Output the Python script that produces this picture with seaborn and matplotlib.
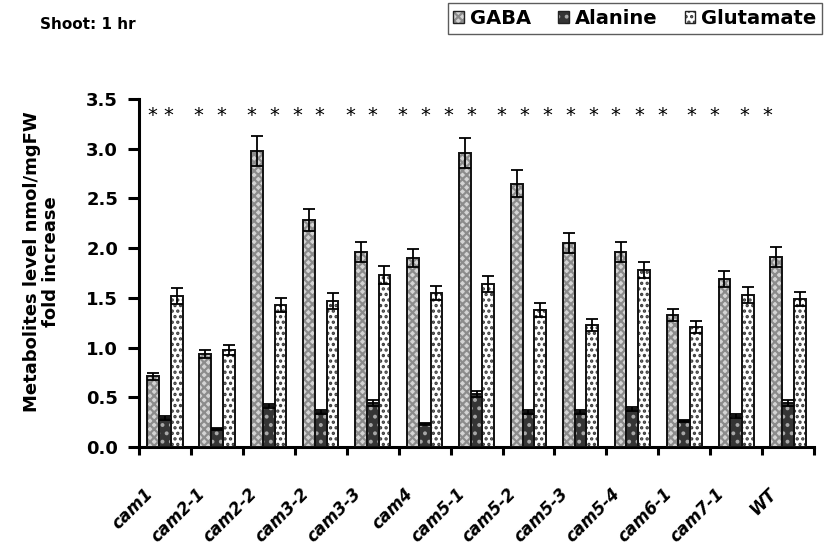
import numpy as np
import pandas as pd
import seaborn as sns
import matplotlib
matplotlib.use("Agg")
import matplotlib.pyplot as plt
import matplotlib.transforms as mtransforms
from matplotlib.patches import Rectangle
from matplotlib.legend_handler import HandlerTuple

strains = ["cam1", "cam2-1", "cam2-2", "cam3-2", "cam3-3", "cam4", "cam5-1",
           "cam5-2", "cam5-3", "cam5-4", "cam6-1", "cam7-1", "WT"]
metabolites = ["GABA", "Alanine", "Glutamate"]
gaba = [0.71, 0.94, 2.98, 2.28, 1.96, 1.90, 2.96, 2.65, 2.05, 1.96, 1.33, 1.69, 1.91]
alanine = [0.29, 0.18, 0.41, 0.35, 0.44, 0.23, 0.53, 0.35, 0.35, 0.38, 0.26, 0.31, 0.44]
glutamate = [1.52, 0.98, 1.43, 1.47, 1.73, 1.55, 1.64, 1.38, 1.23, 1.78, 1.21, 1.53, 1.49]
gaba_err = [0.04, 0.04, 0.15, 0.11, 0.10, 0.09, 0.15, 0.14, 0.10, 0.10, 0.06, 0.08, 0.10]
alanine_err = [0.02, 0.01, 0.02, 0.02, 0.03, 0.01, 0.03, 0.02, 0.02, 0.02, 0.01, 0.02, 0.03]
glutamate_err = [0.08, 0.05, 0.07, 0.08, 0.09, 0.07, 0.08, 0.07, 0.06, 0.08, 0.06, 0.08, 0.07]
# asterisk positions in category units
star_x = [-0.24, 0.07, 0.65, 1.09, 1.67, 2.10, 2.54, 2.98, 3.57, 4.00,
          4.57, 5.01, 5.45, 5.90, 6.47, 6.91, 7.36, 7.80, 8.24, 8.68, 9.13, 9.58,
          10.13, 10.57, 11.15, 11.59]

df = pd.DataFrame({
    "strain": strains * 3,
    "metabolite": np.repeat(metabolites, len(strains)),
    "value": gaba + alanine + glutamate,
})

sns.set_style("white")
plt.rcParams["font.family"] = ["DejaVu Sans"]
plt.rcParams["hatch.linewidth"] = 1.6
for k in ["text.color", "axes.labelcolor", "xtick.color", "ytick.color"]:
    plt.rcParams[k] = "black"

fig = plt.figure(figsize=(8.24, 5.52), dpi=100)
ax = fig.add_axes([0.1687, 0.190, 0.8193, 0.6307])

sns.barplot(data=df, x="strain", y="value", hue="metabolite", order=strains,
            hue_order=metabolites, width=0.68, errorbar=None, ax=ax,
            legend=False, saturation=1)

styles = {
    "GABA": dict(face="#d4d4d4", hatch="xxxx", hcol="#8c8c8c"),
    "Alanine": dict(face="#353535", hatch="..", hcol="#a8a8a8"),
    "Glutamate": dict(face="#ffffff", hatch="...", hcol="#3a3a3a"),
}
errs = {"GABA": gaba_err, "Alanine": alanine_err, "Glutamate": glutamate_err}
vals = {"GABA": gaba, "Alanine": alanine, "Glutamate": glutamate}

for cont, m in zip(ax.containers, metabolites):
    st = styles[m]
    xs = []
    for p in cont.patches:
        p.set_facecolor(st["face"])
        p.set_hatch(st["hatch"])
        p.set_edgecolor(st["hcol"])
        p.set_linewidth(0)
        ax.add_patch(Rectangle(p.get_xy(), p.get_width(), p.get_height(),
                               fill=False, edgecolor="#111111", linewidth=1.4, zorder=3))
        xs.append(p.get_x() + p.get_width() / 2)
    ax.errorbar(xs, vals[m], yerr=errs[m], fmt="none", ecolor="black",
                elinewidth=1.3, capsize=4, capthick=1.3, zorder=4)

ax.set_xlim(-0.5, len(strains) - 0.5)
ax.set_ylim(0, 3.5)
yt = np.arange(0, 3.51, 0.5)
ax.set_yticks(yt)
ax.set_yticklabels([f"{v:.1f}" for v in yt], fontsize=13, fontweight="bold")
ax.set_xticks(np.arange(-0.5, len(strains), 1.0))
ax.set_xticklabels([])
ax.set_xticks(np.arange(len(strains)), minor=True)
ax.set_xticklabels(strains, minor=True, rotation=45, ha="right",
                   rotation_mode="anchor", fontsize=12, fontweight="bold",
                   fontstyle="italic")
ax.tick_params(axis="x", which="minor", length=0, pad=27)
ax.tick_params(axis="x", which="major", direction="out", length=6, width=2.2,
               bottom=True)
ax.tick_params(axis="y", direction="out", length=8, width=2.2, left=True, pad=7)
shift = mtransforms.ScaledTranslation(-0.21, 0.0, fig.dpi_scale_trans)
for lab in ax.get_xticklabels(minor=True):
    lab.set_transform(lab.get_transform() + shift)
for s in ["top", "right"]:
    ax.spines[s].set_visible(False)
for s in ["left", "bottom"]:
    ax.spines[s].set_linewidth(2.2)
    ax.spines[s].set_color("black")
ax.set_xlabel("")
ax.set_ylabel("Metabolites level nmol/mgFW\nfold increase", fontsize=13,
              fontweight="bold", linespacing=1.1)
ax.yaxis.set_label_coords(-0.117, 0.532)

for x in star_x:
    ax.text(x, 3.33, "*", ha="center", va="center", fontsize=14)

fig.text(0.048, 0.955, "Shoot: 1 hr", fontsize=11, fontweight="bold",
         ha="left", va="center")

handles = []
for m in metabolites:
    st = styles[m]
    h1 = Rectangle((0, 0), 1, 1, facecolor=st["face"], hatch=st["hatch"],
                   edgecolor=st["hcol"], linewidth=0)
    h2 = Rectangle((0, 0), 1, 1, fill=False, edgecolor="#222222", linewidth=1.0)
    handles.append((h1, h2))
leg = fig.legend(handles, metabolites, loc="upper right",
                 bbox_to_anchor=(0.998, 0.994), ncol=3, frameon=True,
                 fancybox=False, handlelength=0.55, handleheight=0.55,
                 handletextpad=0.3, columnspacing=1.4, borderpad=0.3,
                 borderaxespad=0.0,
                 handler_map={tuple: HandlerTuple(ndivide=1, pad=0)},
                 prop={"weight": "bold", "size": 14})
leg.get_frame().set_edgecolor("#333333")
leg.get_frame().set_linewidth(1.0)

fig.savefig("out.png", dpi=100)
